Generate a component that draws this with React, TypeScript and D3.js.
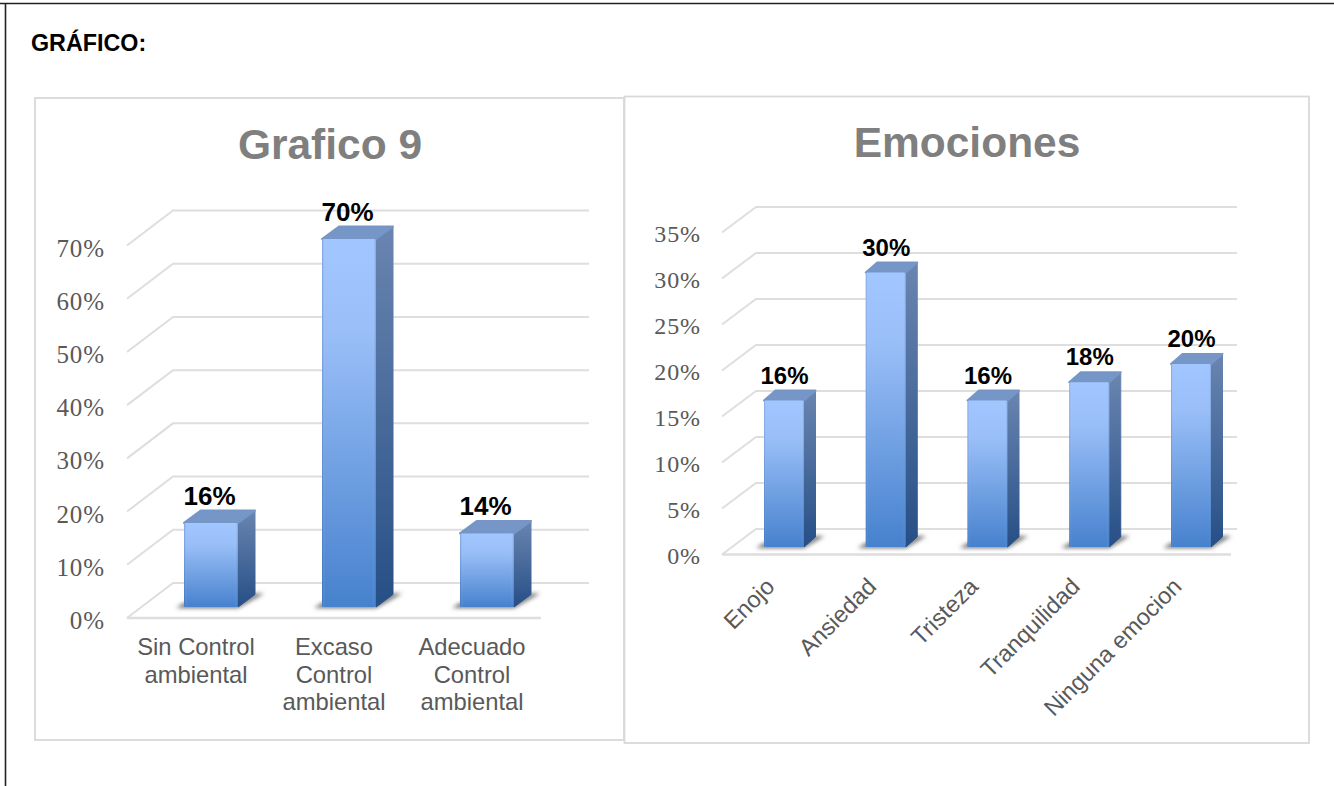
import React from "react";
import * as d3 from "d3";

const WIDTH = 1334;
const HEIGHT = 786;

// Grafico 9
const controlCategories = [
  ["Sin Control", "ambiental"],
  ["Excaso", "Control", "ambiental"],
  ["Adecuado", "Control", "ambiental"],
];
const controlValues = [16, 70, 14];
const controlTicks = [0, 10, 20, 30, 40, 50, 60, 70];

// Emociones
const emotionCategories = ["Enojo", "Ansiedad", "Tristeza", "Tranquilidad", "Ninguna emocion"];
const emotionValues = [16, 30, 16, 18, 20];
const emotionTicks = [0, 5, 10, 15, 20, 25, 30, 35];

const SANS = "'Liberation Sans', Arial, sans-serif";
const SERIF = "'Liberation Serif', serif";
const GRID = "#dedede";
const TEXT = "#595959";

type Layout = {
  frame: [number, number, number, number];
  title: string;
  titleX: number;
  titleY: number;
  ticks: number[];
  backFloor: number;
  backTop: number;
  backLeft: number;
  backRight: number;
  frontLeft: number;
  floorRight: number;
  depthX: number;
  depthY: number;
  tickX: number;
  tickFont: number;
  tickDy: number;
  centers: [number, number];
  barWidth: number;
  barBase: number;
  barTopValue: number;
  barTopY: number;
  sideX: number;
  sideY: number;
  labelFont: number;
  labelGap: number;
  labelShift: number;
};

const toPoints = (pts: number[][]) => pts.map((p) => p.join(",")).join(" ");

function Chart3D({ layout: l, names, values }: { layout: Layout; names: string[]; values: number[] }) {
  const grid = d3
    .scaleLinear()
    .domain([0, l.ticks[l.ticks.length - 1]])
    .range([l.backFloor, l.backTop]);
  const bar = d3.scaleLinear().domain([0, l.barTopValue]).range([l.barBase, l.barTopY]);
  const x = d3.scalePoint<string>().domain(names).range(l.centers);
  const line = d3.line();

  return (
    <g>
      <rect
        x={l.frame[0]}
        y={l.frame[1]}
        width={l.frame[2] - l.frame[0]}
        height={l.frame[3] - l.frame[1]}
        fill="#fff"
        stroke="#d9d9d9"
        strokeWidth={1.8}
      />
      <text
        x={l.titleX}
        y={l.titleY}
        textAnchor="middle"
        fontFamily={SANS}
        fontWeight={700}
        fontSize={42.5}
        fill="#7f7f7f"
      >
        {l.title}
      </text>

      {l.ticks.map((t) => {
        const yBack = grid(t);
        const yFront = yBack + l.depthY;
        const pts: [number, number][] = [
          [l.frontLeft, yFront],
          [l.backLeft, yBack],
          [l.backRight, yBack],
        ];
        return (
          <g key={t}>
            <path d={line(pts) ?? ""} fill="none" stroke={GRID} strokeWidth={2} />
            <text
              x={l.tickX}
              y={yFront + l.tickDy}
              textAnchor="end"
              fontFamily={SERIF}
              fontSize={l.tickFont}
              letterSpacing={0.9}
              fill={TEXT}
            >
              {t}%
            </text>
          </g>
        );
      })}
      <path
        d={line([
          [l.frontLeft, grid(0) + l.depthY],
          [l.floorRight, grid(0) + l.depthY],
        ]) ?? ""}
        stroke={GRID}
        strokeWidth={2.4}
        fill="none"
      />

      {names.map((name, i) => {
        const cx = x(name) ?? 0;
        const x0 = cx - l.barWidth / 2;
        const x1 = cx + l.barWidth / 2;
        const top = bar(values[i]);
        const base = l.barBase;
        const front = [
          [x0, top],
          [x1, top],
          [x1, base],
          [x0, base],
        ];
        const side = [
          [x1, top],
          [x1 + l.sideX, top - l.sideY],
          [x1 + l.sideX, base - l.sideY],
          [x1, base],
        ];
        const cap = [
          [x0, top],
          [x0 + l.sideX, top - l.sideY],
          [x1 + l.sideX, top - l.sideY],
          [x1, top],
        ];
        const shadow = [
          [x0 - 8, base + 1],
          [x1, base + 1],
          [x1 + l.sideX + 9, base - l.sideY - 1],
          [x1 + l.sideX, base - l.sideY - 1],
          [x1, base - 4],
          [x0, base - 4],
        ];
        return (
          <g key={name}>
            <polygon points={toPoints(shadow)} fill="#6f6f6f" filter="url(#floorShadow)" />
            <polygon points={toPoints(side)} fill="url(#sideFace)" stroke="url(#sideFace)" strokeWidth={1} strokeLinejoin="round" />
            <polygon points={toPoints(cap)} fill="#7596c6" stroke="#7596c6" strokeWidth={2} strokeLinejoin="round" />
            <rect x={x0} y={top} width={l.barWidth} height={base - top} rx={1.5} fill="url(#frontFace)" />
            <rect x={x0} y={top} width={l.barWidth} height={base - top} rx={1.5} fill="url(#frontEdge)" />
            <text
              x={cx + l.labelShift}
              y={top - l.labelGap}
              textAnchor="middle"
              fontFamily={SANS}
              fontWeight={700}
              fontSize={l.labelFont}
              fill="#000"
            >
              {values[i]}%
            </text>
          </g>
        );
      })}
    </g>
  );
}

const controlLayout: Layout = {
  frame: [35, 98, 624, 740],
  title: "Grafico 9",
  titleX: 330,
  titleY: 159,
  ticks: controlTicks,
  backFloor: 583,
  backTop: 210.5,
  backLeft: 173,
  backRight: 589,
  frontLeft: 127,
  floorRight: 541,
  depthX: 46,
  depthY: 35,
  tickX: 105,
  tickFont: 25,
  tickDy: 11,
  centers: [211, 487],
  barWidth: 54,
  barBase: 607,
  barTopValue: 70,
  barTopY: 239,
  sideX: 17,
  sideY: 12.5,
  labelFont: 26,
  labelGap: 18,
  labelShift: -1.5,
};

const emotionLayout: Layout = {
  frame: [624.5, 96.5, 1309, 743],
  title: "Emociones",
  titleX: 967,
  titleY: 157,
  ticks: emotionTicks,
  backFloor: 529,
  backTop: 207,
  backLeft: 756,
  backRight: 1237,
  frontLeft: 722,
  floorRight: 1231,
  depthX: 34,
  depthY: 25.5,
  tickX: 701,
  tickFont: 24,
  tickDy: 9,
  centers: [784, 1191],
  barWidth: 40,
  barBase: 547,
  barTopValue: 30,
  barTopY: 272.5,
  sideX: 11.5,
  sideY: 10,
  labelFont: 24,
  labelGap: 17,
  labelShift: 0.5,
};

export default function App() {
  const xControl = d3
    .scalePoint<number>()
    .domain(d3.range(controlCategories.length))
    .range(controlLayout.centers);
  const xEmotion = d3
    .scalePoint<string>()
    .domain(emotionCategories)
    .range(emotionLayout.centers);

  return (
    <svg
      width={WIDTH}
      height={HEIGHT}
      viewBox={`0 0 ${WIDTH} ${HEIGHT}`}
      style={{ position: "fixed", left: 0, top: 0, background: "#fff" }}
    >
      <defs>
        <linearGradient id="frontFace" x1="0" y1="0" x2="0" y2="1">
          <stop offset="0" stopColor="#9dc3ff" />
          <stop offset="0.25" stopColor="#95bcf8" />
          <stop offset="1" stopColor="#3d7bcb" />
        </linearGradient>
        <linearGradient id="frontEdge" x1="0" y1="0" x2="1" y2="0">
          <stop offset="0" stopColor="#2f5f9f" stopOpacity={0.35} />
          <stop offset="0.06" stopColor="#ffffff" stopOpacity={0.05} />
          <stop offset="0.94" stopColor="#ffffff" stopOpacity={0.05} />
          <stop offset="1" stopColor="#2f5f9f" stopOpacity={0.3} />
        </linearGradient>
        <linearGradient id="sideFace" x1="0" y1="0" x2="0" y2="1">
          <stop offset="0" stopColor="#6a85b0" />
          <stop offset="1" stopColor="#264f86" />
        </linearGradient>
        <filter id="floorShadow" x="-30%" y="-60%" width="160%" height="220%">
          <feGaussianBlur stdDeviation="2" />
        </filter>
      </defs>

      {/* Page table border */}
      <path d="M0,3.5H1334M5.5,3.5V786" fill="none" stroke="#222" strokeWidth={1.6} />
      <text x={31} y={51} fontFamily={SANS} fontWeight={700} fontSize={23.3} fill="#000">
        GRÁFICO:
      </text>

      <Chart3D
        layout={controlLayout}
        names={controlCategories.map((c) => c.join(" "))}
        values={controlValues}
      />
      {controlCategories.map((lines, i) => (
        <text key={i} textAnchor="middle" fontFamily={SANS} fontSize={23.8} fill={TEXT}>
          {lines.map((s, j) => (
            <tspan key={j} x={(xControl(i) ?? 0) - 15} y={655 + j * 27.5}>
              {s}
            </tspan>
          ))}
        </text>
      ))}

      <Chart3D layout={emotionLayout} names={emotionCategories} values={emotionValues} />
      {emotionCategories.map((name) => (
        <text
          key={name}
          transform={`translate(${(xEmotion(name) ?? 0) - 8},588) rotate(-45)`}
          textAnchor="end"
          fontFamily={SANS}
          fontSize={23.5}
          fill={TEXT}
        >
          {name}
        </text>
      ))}
    </svg>
  );
}
